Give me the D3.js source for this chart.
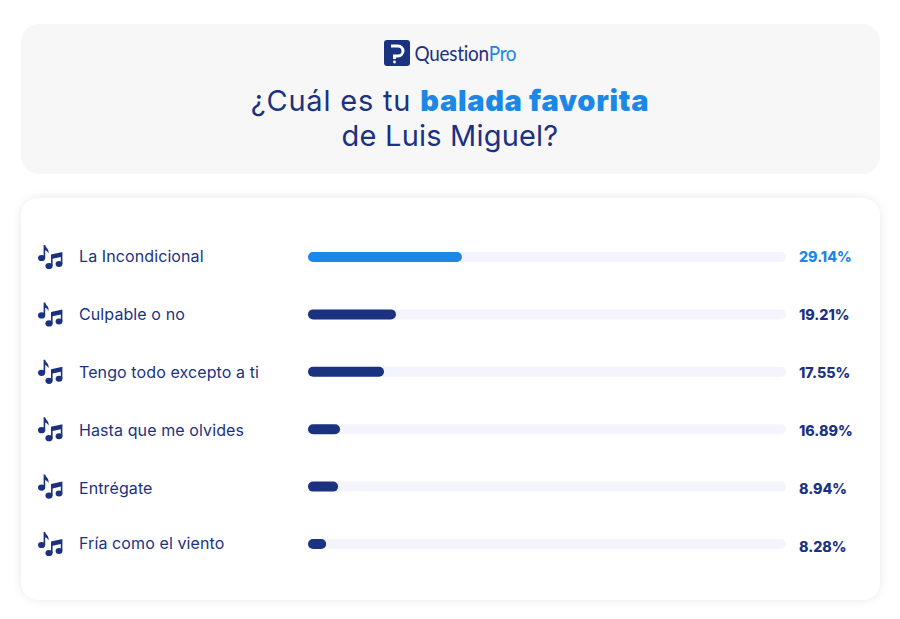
<!DOCTYPE html>
<html>
<head>
<meta charset="utf-8">
<script src="https://cdn.jsdelivr.net/npm/d3@7"></script>
<style>
html, body { margin: 0; padding: 0; background: #fff; }
text { font-family: Inter, "Open Sans", sans-serif; }
</style>
</head>
<body>
<div id="chart"></div>
<script>
// bar = drawn length in the picture, pct = printed label, the two do not agree in the original
var data = [
  {name: "La Incondicional",        bar: 32.2, pct: "29.14%", labelDy: -1, pctDy: 0},
  {name: "Culpable o no",           bar: 18.4, pct: "19.21%", labelDy: 0,  pctDy: 1},
  {name: "Tengo todo excepto a ti", bar: 15.9, pct: "17.55%", labelDy: 0,  pctDy: 1},
  {name: "Hasta que me olvides",    bar: 6.7,  pct: "16.89%", labelDy: 1,  pctDy: 2},
  {name: "Entrégate",               bar: 6.3,  pct: "8.94%",  labelDy: 1,  pctDy: 2},
  {name: "Fría como el viento",     bar: 3.8,  pct: "8.28%",  labelDy: -1, pctDy: 3}
];

var navy = "#1b3281", blue = "#1b87e6";

var svg = d3.select("#chart").append("svg")
    .attr("width", 900).attr("height", 619)
    .style("display", "block");

var defs = svg.append("defs");
var shadow = defs.append("filter").attr("id", "soft")
    .attr("x", "-5%").attr("y", "-5%").attr("width", "110%").attr("height", "110%");
shadow.append("feDropShadow").attr("dx", 0).attr("dy", 0)
    .attr("stdDeviation", 5).attr("flood-color", "#000").attr("flood-opacity", 0.09);

// header panel
svg.append("rect").attr("x", 21).attr("y", 24).attr("width", 859).attr("height", 150)
    .attr("rx", 18).attr("fill", "#f7f7f8");

// logo
var logo = svg.append("g");
logo.append("rect").attr("x", 384).attr("y", 40).attr("width", 26).attr("height", 26)
    .attr("rx", 3).attr("fill", navy);
logo.append("path")
    .attr("d", "M391 46h7a5 5 0 0 1 0 10h-3.5v3")
    .attr("fill", "none").attr("stroke", "#fff").attr("stroke-width", 3);
logo.append("circle").attr("cx", 394.5).attr("cy", 62).attr("r", 1.4).attr("fill", "#fff");
// wordmark is narrower than any installed font, so squeeze it
var logoText = logo.append("text")
    .attr("transform", "translate(414.5,61) scale(0.86,1)")
    .attr("font-size", 22)
    .style("font-family", "Lato")
    .style("letter-spacing", "-0.3px");
logoText.append("tspan").attr("fill", navy).text("Question");
logoText.append("tspan").attr("fill", blue).text("Pro");

// title
var t1 = svg.append("text").attr("x", 450).attr("y", 111).attr("text-anchor", "middle")
    .attr("font-size", 29).attr("fill", navy);
t1.append("tspan").style("letter-spacing", "0.8px").text("¿Cuál es tu ");
t1.append("tspan").attr("fill", blue).attr("font-weight", 900)
    .style("letter-spacing", "0.7px").text("balada favorita");
svg.append("text").attr("x", 450).attr("y", 146).attr("text-anchor", "middle")
    .attr("font-size", 29).attr("fill", navy)
    .style("letter-spacing", "0.2px").text("de Luis Miguel?");

// chart panel
svg.append("rect").attr("x", 21).attr("y", 198).attr("width", 859).attr("height", 402)
    .attr("rx", 18).attr("fill", "#fff").attr("filter", "url(#soft)");

var x = d3.scaleLinear().domain([0, 100]).range([308, 786]);
var y = d3.scalePoint().domain(data.map(function(d) { return d.name; })).range([257, 544]);

var rows = svg.selectAll(".row").data(data).enter().append("g").attr("class", "row");

rows.append("rect")
    .attr("x", x(0))
    .attr("y", function(d) { return y(d.name) - 5; })
    .attr("width", x(100) - x(0))
    .attr("height", 10)
    .attr("rx", 5)
    .attr("fill", "#f3f4fd");

rows.append("rect")
    .attr("x", x(0))
    .attr("y", function(d) { return y(d.name) - 5; })
    .attr("width", function(d) { return x(d.bar) - x(0); })
    .attr("height", 10)
    .attr("rx", 5)
    .attr("fill", function(d, i) { return i == 0 ? blue : navy; });

rows.append("text")
    .attr("x", 79)
    .attr("y", function(d) { return y(d.name) + d.labelDy + 6; })
    .attr("font-size", 16)
    .attr("fill", navy)
    .style("letter-spacing", "0.1px")
    .text(function(d) { return d.name; });

rows.append("text")
    .attr("x", 799)
    .attr("y", function(d) { return y(d.name) + d.pctDy + 5; })
    .attr("font-size", 14.3)
    .attr("font-weight", 800)
    .attr("fill", function(d, i) { return i == 0 ? blue : navy; })
    .text(function(d) { return d.pct; });

// music note icon
var icon = rows.append("g")
    .attr("transform", function(d) { return "translate(38," + (y(d.name) - 13) + ")"; })
    .attr("fill", navy);
icon.append("ellipse").attr("cx", 3.6).attr("cy", 14).attr("rx", 3.6).attr("ry", 3.1);
icon.append("path").attr("d", "M5.6 14V1h1.6c.5 3 4.2 3.8 3.3 8.5-.8-1.8-2-2.8-3.3-3.2V14z");
icon.append("ellipse").attr("cx", 11).attr("cy", 22).attr("rx", 3.6).attr("ry", 3.1);
icon.append("ellipse").attr("cx", 21).attr("cy", 20).attr("rx", 3.4).attr("ry", 3);
icon.append("path").attr("d", "M13 22V10.5L24.4 8V20H22.8V13L14.6 14.8V22z");
</script>
</body>
</html>
